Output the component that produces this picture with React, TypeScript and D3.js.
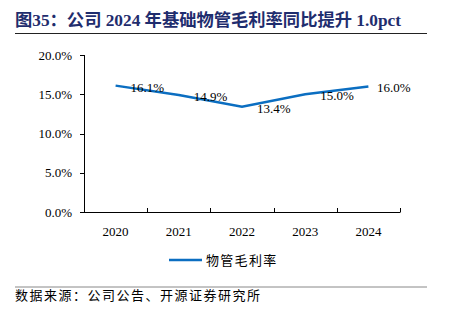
import React from "react";
import * as d3 from "d3";

const years = ["2020", "2021", "2022", "2023", "2024"];
const margin = [16.1, 14.9, 13.4, 15.0, 16.0];
const yTicks = [0, 5, 10, 15, 20];
const title = "图35：公司 2024 年基础物管毛利率同比提升 1.0pct";
const seriesName = "物管毛利率";
const source = "数据来源：公司公告、开源证券研究所";

const W = 449;
const H = 326;
const plotLeft = 84;
const plotRight = 400;
const plotTop = 55;
const plotBottom = 212;
const blue = "#0B6EC1";
const serif = "'Liberation Serif', 'Times New Roman', serif";
const cjk = "'Noto Sans CJK SC', sans-serif";

export default function App() {
  const x = d3.scaleBand<string>().domain(years).range([plotLeft, plotRight]);
  const y = d3.scaleLinear().domain([0, 20]).range([plotBottom, plotTop]);
  const cx = (d: string) => (x(d) as number) + x.bandwidth() / 2;
  const line = d3
    .line<number>()
    .x((_, i) => cx(years[i]))
    .y((v) => y(v));

  return (
    <svg
      width={W}
      height={H}
      style={{ position: "absolute", left: 0, top: 0, background: "#fff" }}
    >
      <text
        x={15}
        y={26}
        fontSize={17.3}
        fontWeight="bold"
        fill="#1F2D6E"
        fontFamily={`'Liberation Serif', 'Noto Sans CJK SC', serif`}
      >
        {title}
      </text>
      <line x1={15} x2={427} y1={33.5} y2={33.5} stroke="#222" strokeWidth={1} />

      {/* Y axis */}
      <line x1={plotLeft + 0.5} x2={plotLeft + 0.5} y1={plotTop} y2={plotBottom} stroke="#000" />
      {yTicks.map((t) => (
        <g key={t}>
          <line
            x1={plotLeft - 4}
            x2={plotLeft}
            y1={Math.round(y(t)) + 0.5}
            y2={Math.round(y(t)) + 0.5}
            stroke="#000"
          />
          <text
            x={72}
            y={y(t) + 4.5}
            textAnchor="end"
            fontSize={13}
            fontFamily={serif}
            fill="#000"
          >
            {t.toFixed(1)}%
          </text>
        </g>
      ))}

      {/* X axis */}
      <line x1={plotLeft} x2={plotRight + 0.5} y1={plotBottom + 0.5} y2={plotBottom + 0.5} stroke="#000" />
      {years.map((yr) => (
        <g key={yr}>
          <line
            x1={Math.round((x(yr) as number) + x.bandwidth()) + 0.5}
            x2={Math.round((x(yr) as number) + x.bandwidth()) + 0.5}
            y1={plotBottom - 4}
            y2={plotBottom}
            stroke="#000"
          />
          <text
            x={cx(yr)}
            y={236}
            textAnchor="middle"
            fontSize={13}
            fontFamily={serif}
            fill="#000"
          >
            {yr}
          </text>
        </g>
      ))}

      <path d={line(margin) as string} fill="none" stroke={blue} strokeWidth={2.5} />
      {margin.map((v, i) => (
        <text
          key={i}
          x={cx(years[i]) + (i === margin.length - 1 ? 8.5 : 15)}
          y={y(v) + 6}
          fontSize={13}
          fontFamily={serif}
          fill="#000"
        >
          {v.toFixed(1)}%
        </text>
      ))}

      {/* Legend */}
      <line x1={169} x2={202} y1={260} y2={260} stroke={blue} strokeWidth={2.5} />
      <text x={206} y={265} fontSize={13} letterSpacing={1.3} fontFamily={cjk} fill="#000">
        {seriesName}
      </text>

      {/* Source */}
      <line x1={15} x2={427} y1={287} y2={287} stroke="#888" strokeWidth={1} />
      <text x={15} y={300} fontSize={13} letterSpacing={1.5} fontFamily={cjk} fill="#000">
        {source}
      </text>
    </svg>
  );
}
